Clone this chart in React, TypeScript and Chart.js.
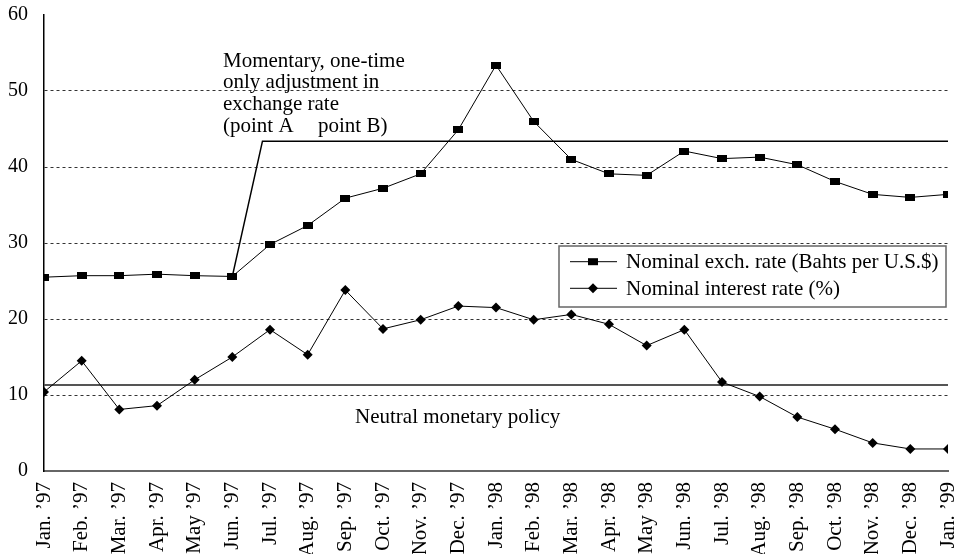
import React, { useEffect, useRef } from 'react';
import { Chart, registerables } from 'chart.js';

Chart.register(...registerables);

const months = [
  "Jan. ’97", "Feb. ’97", "Mar. ’97", "Apr. ’97", "May ’97", "Jun. ’97",
  "Jul. ’97", "Aug. ’97", "Sep. ’97", "Oct. ’97", "Nov. ’97", "Dec. ’97",
  "Jan. ’98", "Feb. ’98", "Mar. ’98", "Apr. ’98", "May ’98", "Jun. ’98",
  "Jul. ’98", "Aug. ’98", "Sep. ’98", "Oct. ’98", "Nov. ’98", "Dec. ’98",
  "Jan. ’99",
];

const exchRate = [
  25.5, 25.7, 25.7, 25.9, 25.7, 25.6, 29.8, 32.3, 35.9, 37.2, 39.1, 44.9,
  53.4, 46.0, 41.0, 39.1, 38.9, 42.1, 41.1, 41.3, 40.3, 38.1, 36.4, 36.0,
  36.4,
];

const interestRate = [
  10.4, 14.5, 8.1, 8.6, 12.0, 15.0, 18.6, 15.3, 23.8, 18.7, 19.9, 21.7,
  21.5, 19.9, 20.6, 19.3, 16.5, 18.6, 11.7, 9.8, 7.1, 5.5, 3.7, 2.9,
  2.9,
];

const yTicks = [0, 10, 20, 30, 40, 50, 60];

const neutralLevel = 11.3;
const adjustStart = { x: 5, y: 25.6 };
const adjustTop = { x: 5.8, y: 43.4 };

const seriesLabels = ["Nominal exch. rate (Bahts per U.S.$)", "Nominal interest rate (%)"];
const annotationLines = ["Momentary, one-time", "only adjustment in", "exchange rate"];
const pointALabel = "(point A";
const pointBLabel = "point B)";
const neutralLabel = "Neutral monetary policy";

const FONT = "'Liberation Serif', 'Times New Roman', Times, serif";

function makeSquare(): HTMLCanvasElement {
  const c = document.createElement('canvas');
  c.width = 10;
  c.height = 7;
  const g = c.getContext('2d')!;
  g.fillStyle = '#000';
  g.fillRect(0, 0, 10, 7);
  return c;
}

export default function App() {
  const ref = useRef<HTMLCanvasElement | null>(null);

  useEffect(() => {
    const canvas = ref.current;
    if (!canvas) return;
    const square = makeSquare();

    const drawDiamond = (ctx: CanvasRenderingContext2D, x: number, y: number, r: number) => {
      ctx.beginPath();
      ctx.moveTo(x, y - r);
      ctx.lineTo(x + r, y);
      ctx.lineTo(x, y + r);
      ctx.lineTo(x - r, y);
      ctx.closePath();
      ctx.fill();
    };

    const overlay = {
      id: 'overlay',
      afterDraw(chart: any) {
        const ctx: CanvasRenderingContext2D = chart.ctx;
        ctx.save();
        ctx.fillStyle = '#000';
        ctx.font = `21px ${FONT}`;
        ctx.textBaseline = 'alphabetic';
        ctx.textAlign = 'left';
        annotationLines.forEach((t, i) => ctx.fillText(t, 223, 66.5 + i * 21.8));
        ctx.fillText(pointALabel, 223, 131.7);
        ctx.fillText(pointBLabel, 318, 131.7);
        ctx.fillText(neutralLabel, 355, 423);

        // legend box
        const bx = 559, by = 246, bw = 387, bh = 61;
        ctx.fillStyle = '#fff';
        ctx.fillRect(bx, by, bw, bh);
        ctx.strokeStyle = '#666';
        ctx.lineWidth = 1.5;
        ctx.strokeRect(bx, by, bw, bh);
        const rows = [261.7, 288.3];
        rows.forEach((ry, i) => {
          ctx.strokeStyle = '#000';
          ctx.lineWidth = 1;
          ctx.beginPath();
          ctx.moveTo(570, ry);
          ctx.lineTo(617, ry);
          ctx.stroke();
          ctx.fillStyle = '#000';
          if (i === 0) {
            ctx.fillRect(593 - 5, ry - 3.5, 10, 7);
          } else {
            drawDiamond(ctx, 593, ry, 5);
          }
          ctx.textBaseline = 'middle';
          ctx.fillText(seriesLabels[i], 626, ry + 1);
        });
        ctx.restore();
      },
    };

    const chart = new Chart(canvas, {
      type: 'line',
      data: {
        datasets: [
          {
            label: seriesLabels[0],
            data: exchRate.map((v, i) => ({ x: i, y: v })),
            borderColor: '#000',
            borderWidth: 1,
            pointStyle: square as any,
            pointRadius: 5,
            backgroundColor: '#000',
          },
          {
            label: seriesLabels[1],
            data: interestRate.map((v, i) => ({ x: i, y: v })),
            borderColor: '#000',
            borderWidth: 1,
            pointStyle: 'rectRot',
            pointRadius: 5,
            pointBorderWidth: 0,
            pointBackgroundColor: '#000',
            pointBorderColor: '#000',
            backgroundColor: '#000',
          },
          {
            label: 'adjustment',
            data: [adjustStart, adjustTop, { x: months.length - 1, y: adjustTop.y }],
            borderColor: '#000',
            borderWidth: 1.5,
            pointRadius: 0,
          },
          {
            label: 'neutral',
            data: [{ x: 0, y: neutralLevel }, { x: months.length - 1, y: neutralLevel }],
            borderColor: '#555',
            borderWidth: 2,
            pointRadius: 0,
          },
        ],
      },
      options: {
        responsive: false,
        animation: false,
        events: [],
        layout: { padding: { top: 15, right: 10, left: 0, bottom: 0 } },
        plugins: {
          legend: { display: false },
          tooltip: { enabled: false },
        },
        scales: {
          x: {
            type: 'linear',
            min: 0,
            max: months.length - 1,
            afterFit(scale: any) {
              scale.height = 83;
              scale.paddingLeft = 0;
              scale.paddingRight = 0;
            },
            afterBuildTicks(scale: any) {
              scale.ticks = months.map((_, i) => ({ value: i }));
            },
            grid: { display: false, drawTicks: false },
            border: { display: true, color: '#666', width: 2 },
            ticks: {
              autoSkip: false,
              maxRotation: 90,
              minRotation: 90,
              padding: 11,
              color: '#000',
              font: { family: FONT, size: 21 },
              callback: (v: any) => months[Math.round(Number(v))] ?? '',
            },
          },
          y: {
            min: 0,
            max: 60,
            afterFit(scale: any) {
              scale.width = 44;
              scale.paddingTop = 0;
              scale.paddingBottom = 0;
            },
            afterBuildTicks(scale: any) {
              scale.ticks = yTicks.map((v) => ({ value: v }));
            },
            grid: {
              drawTicks: false,
              color: (c: any) => (c.tick && (c.tick.value === 0 || c.tick.value === 60) ? 'rgba(0,0,0,0)' : '#333'),
              lineWidth: 1,
            },
            border: { display: true, color: '#000', width: 1.5, dash: [3, 3] as any },
            ticks: {
              padding: 16,
              color: '#000',
              font: { family: FONT, size: 20 },
            },
          },
        },
      } as any,
      plugins: [overlay],
    });

    return () => chart.destroy();
  }, []);

  return (
    <div style={{ position: 'absolute', left: 0, top: 0, width: 958, height: 554, background: '#fff' }}>
      <canvas ref={ref} width={958} height={554} style={{ display: 'block' }} />
    </div>
  );
}
